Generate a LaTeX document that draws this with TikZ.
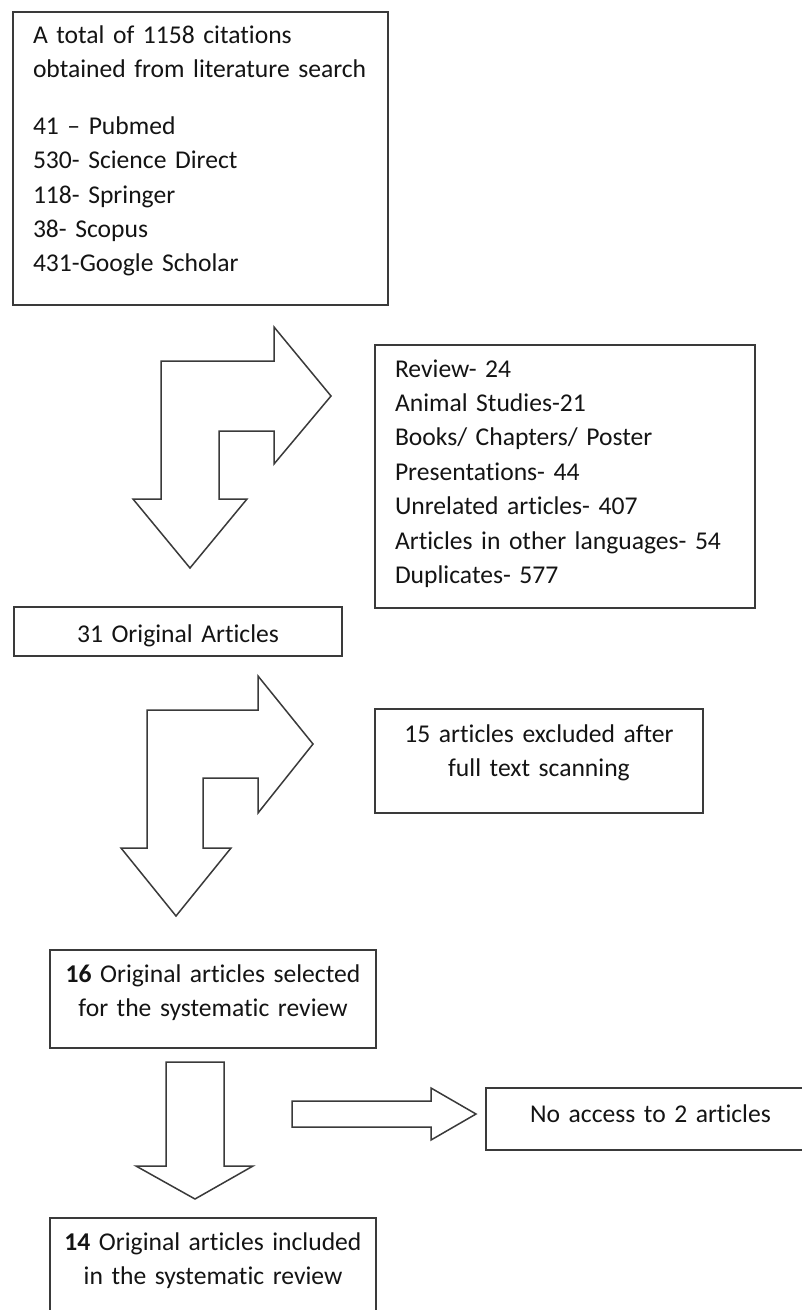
\documentclass[tikz,border=0pt]{standalone}
\usepackage{fontspec}
\setmainfont[Ligatures={TeX,NoCommon}]{Carlito}
\usepackage{xcolor}
\usepackage{tikz}
\definecolor{ink}{HTML}{141414}
\definecolor{frame}{HTML}{3A3A3A}

\begin{document}
\begin{tikzpicture}[x=1pt,y=-1pt]
  \tikzset{card/.style={draw=frame,line width=1.5pt,anchor=north west,outer sep=0pt,inner xsep=10pt,inner ysep=0pt,text height=32pt,align=center,text=ink,font=\fontsize{25.6pt}{34.4pt}\selectfont}, listcard/.style={card,align=left,inner xsep=20pt}, blockarrow/.style={draw=frame,line width=1.5pt,line join=miter,fill=white}}
  \path[use as bounding box,fill=white] (0,0) rectangle (802,1310);
  \clip (0,0) rectangle (802,1310);
  \node[listcard,text width=335pt,text height=31pt,text depth=262pt] (search) at (13,12) {A total of 1158 citations\\obtained from literature search\\[22.5pt]41 – Pubmed\\530- Science Direct\\118- Springer\\38- Scopus\\431-Google Scholar};
  \node[listcard,text width=340pt,text depth=231pt] (excluded) at (375,345) {Review- 24\\Animal Studies-21\\Books/ Chapters/ Poster\\Presentations- 44\\Unrelated articles- 407\\Articles in other languages- 54\\Duplicates- 577};
  \node[card,text width=308pt,text height=35pt,text depth=14pt] (original) at (14,607) {31 Original Articles};
  \node[card,text width=308pt,text height=33pt,text depth=71pt] (scanning) at (375,709) {15 articles excluded after\\full text scanning};
  \node[card,text width=306pt,text depth=66pt] (selected) at (50,950) {\textbf{16} Original articles selected\\for the systematic review};
  \node[card,text width=309pt,text height=34pt,text depth=28pt] (noaccess) at (486,1088) {No access to 2 articles};
  \node[card,text width=306pt,text depth=100pt] (included) at (50,1218) {\textbf{14} Original articles included\\in the systematic review};
  \draw[blockarrow] (161,499) -- (161,361) -- (274,361) -- (274,327) -- (331,396) -- (274,464) -- (274,431) -- (219,431) -- (219,499) -- (247,499) -- (190,568) -- (133,499) -- cycle;
  \draw[blockarrow] (147,848) -- (147,710) -- (258,710) -- (258,676) -- (313,744) -- (258,813) -- (258,778) -- (203,778) -- (203,848) -- (231,848) -- (176,916) -- (121,848) -- cycle;
  \draw[blockarrow] (166,1062) -- (224,1062) -- (224,1166) -- (253,1166) -- (195,1199) -- (136,1166) -- (166,1166) -- cycle;
  \draw[blockarrow] (292,1101) -- (431,1101) -- (431,1088) -- (476,1114) -- (431,1140) -- (431,1127) -- (292,1127) -- cycle;
\end{tikzpicture}
\end{document}
